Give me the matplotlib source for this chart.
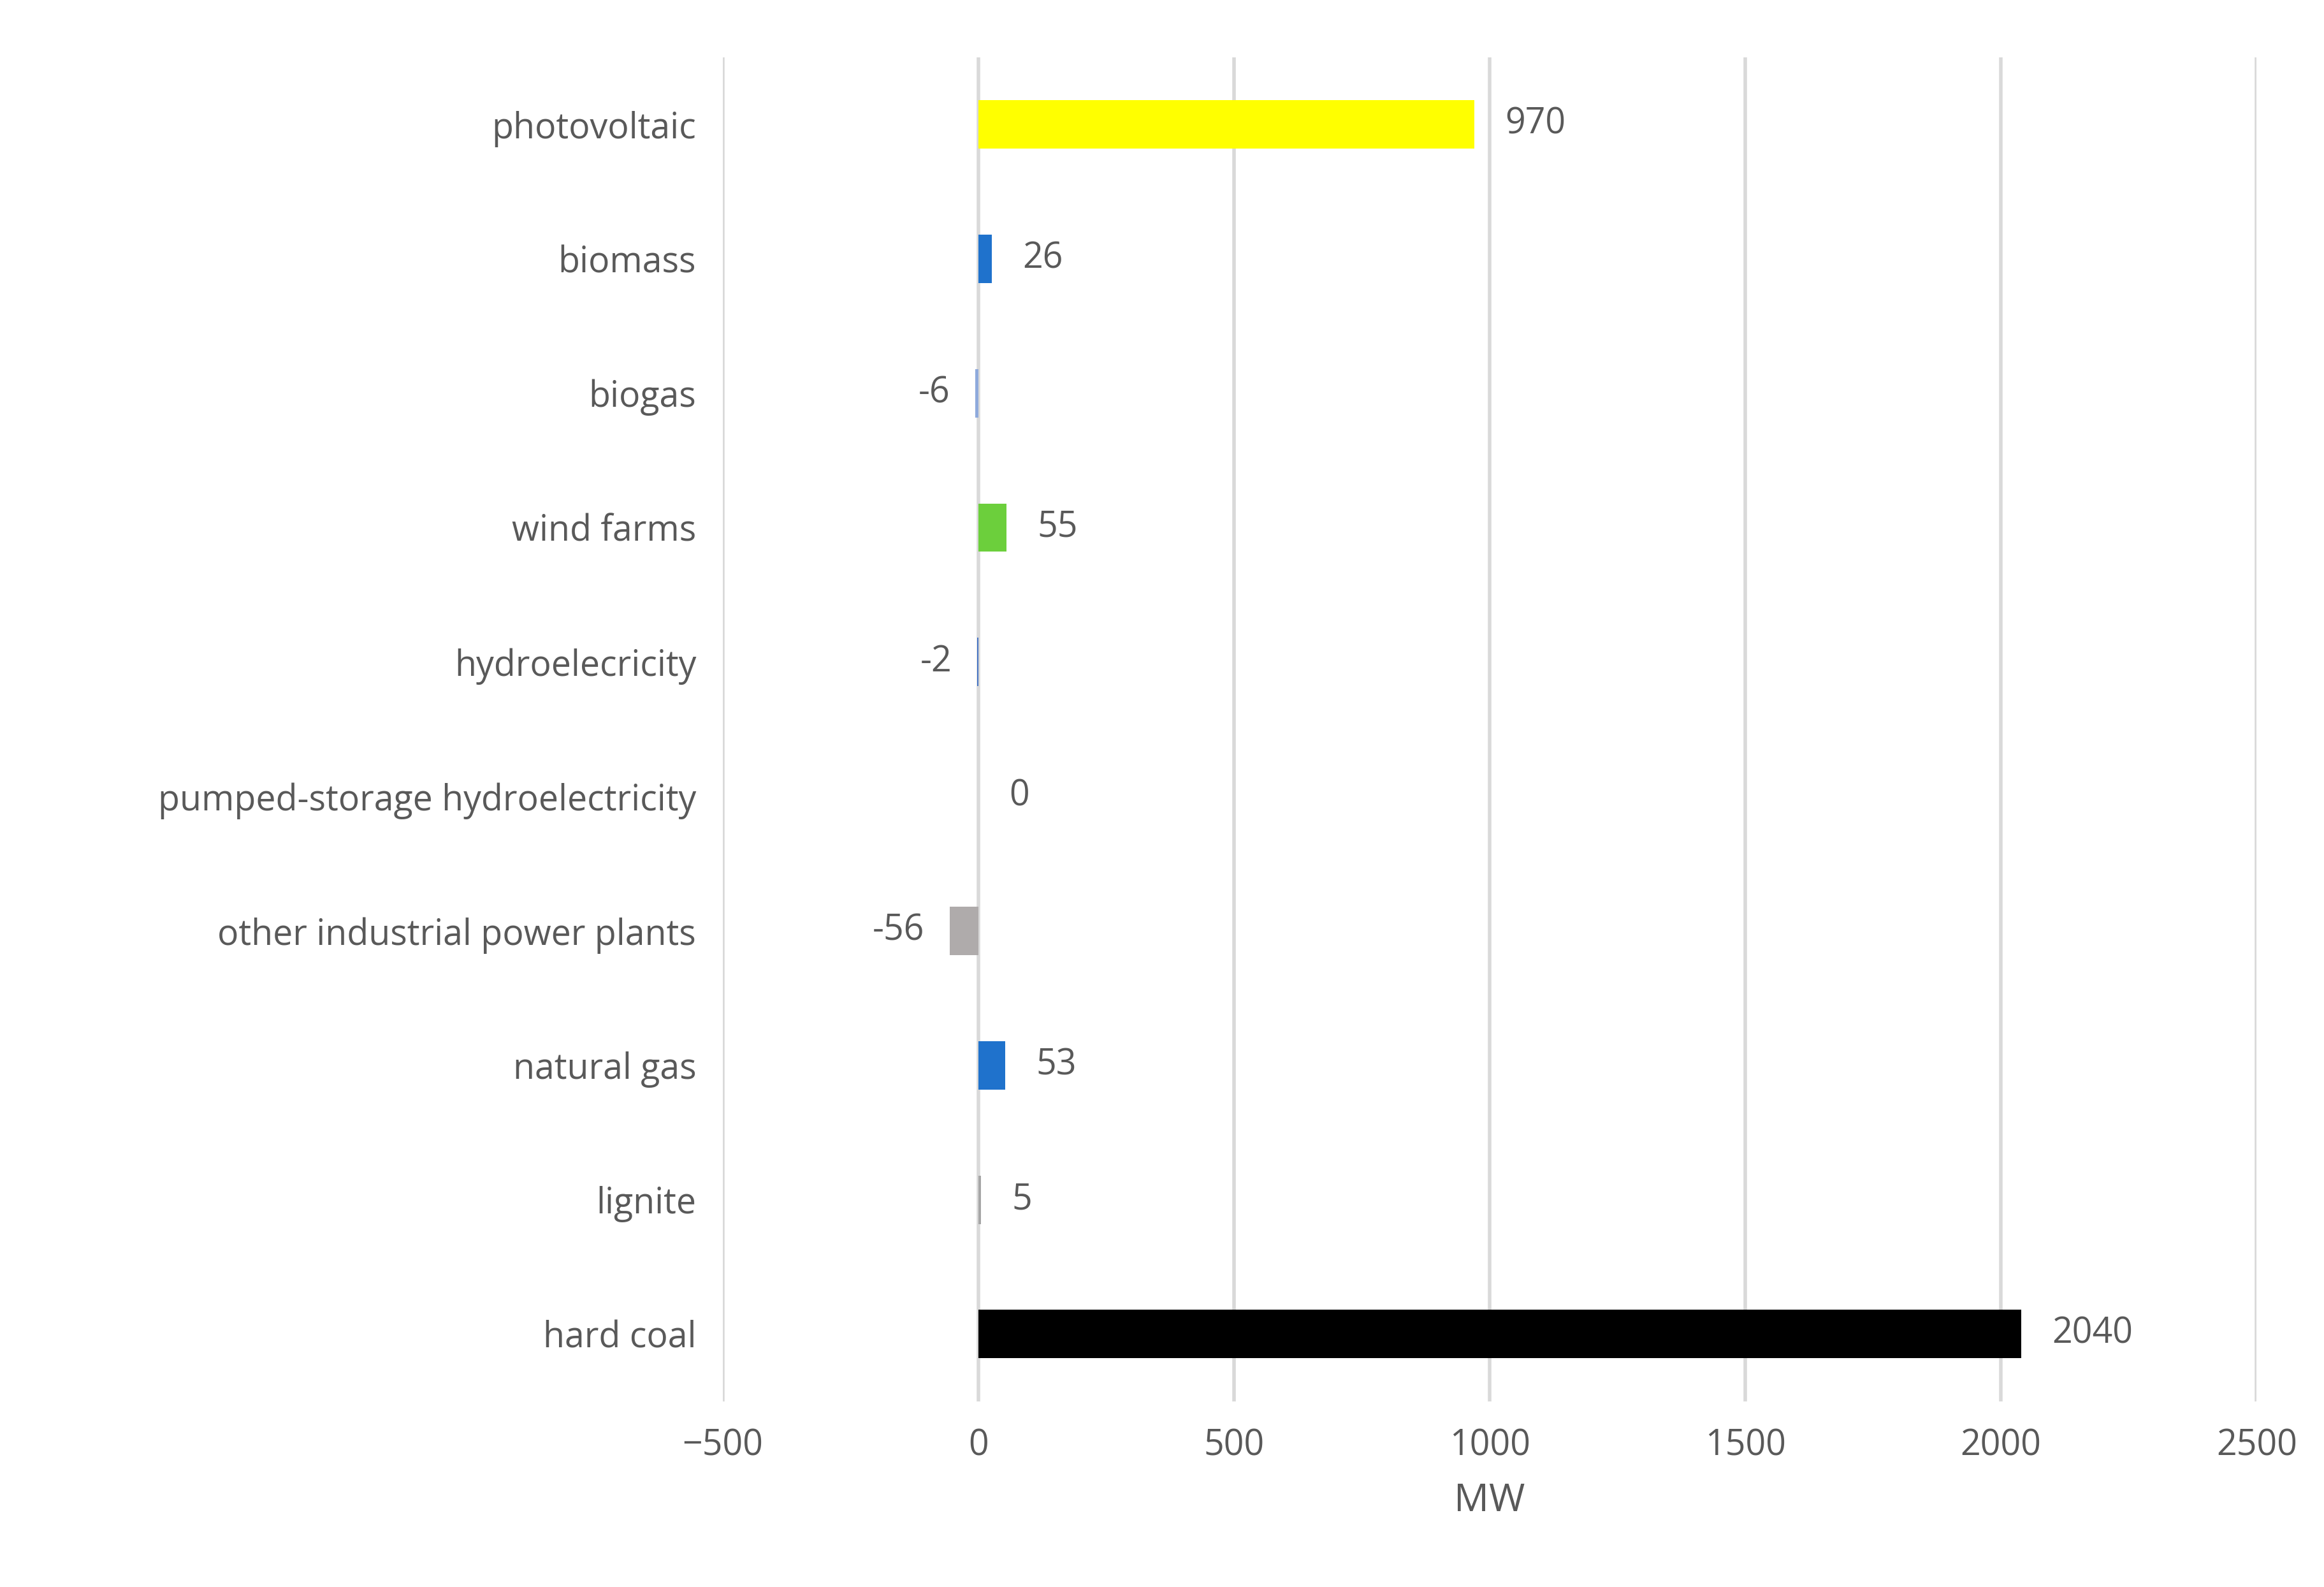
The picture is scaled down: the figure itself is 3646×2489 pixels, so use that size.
import matplotlib
matplotlib.use("Agg")
from matplotlib import pyplot as plt

categories = ['hard coal', 'lignite', 'natural gas', 'other industrial power plants',
              'pumped-storage hydroelectricity', 'hydroelecricity', 'wind farms',
              'biogas', 'biomass', 'photovoltaic']
values = [2040, 5, 53, -56, 0, -2, 55, -6, 26, 970]
colors = ['#000000', '#A6A6A6', '#1F72CC', '#AFABAB', '#4472C4', '#4472C4',
          '#6CCF3C', '#8FAADC', '#1F72CC', '#FFFF00']

plt.rcParams['font.family'] = ['Open Sans', 'DejaVu Sans']
grey = '#595959'

fig = plt.figure(figsize=(36.46, 24.89), dpi=100)
ax = fig.add_axes([0.311, 0.117, 0.66, 0.847])

y = range(len(categories))
ax.barh(y, values, height=0.36, color=colors, zorder=3)
for i, v in enumerate(values):
    if v < 0:
        ax.text(v - 50, i, str(v), ha='right', va='center', fontsize=40, color=grey)
    else:
        ax.text(v + 60, i, str(v), ha='left', va='center', fontsize=40, color=grey)

ax.set_xlim(-500, 2500)
ax.set_ylim(-0.5, len(categories) - 0.5)
ax.set_xticks(range(-500, 2501, 500))
ax.set_yticks(list(y))
ax.set_yticklabels(categories)
ax.tick_params(axis='both', length=0, labelsize=40, colors=grey, pad=30)
ax.grid(axis='x', color='#D9D9D9', linewidth=4, zorder=0)
for s in ax.spines.values():
    s.set_visible(False)
ax.set_xlabel('MW', fontsize=44, color=grey, labelpad=20)

fig.savefig('out.png', dpi=100, facecolor='white')
